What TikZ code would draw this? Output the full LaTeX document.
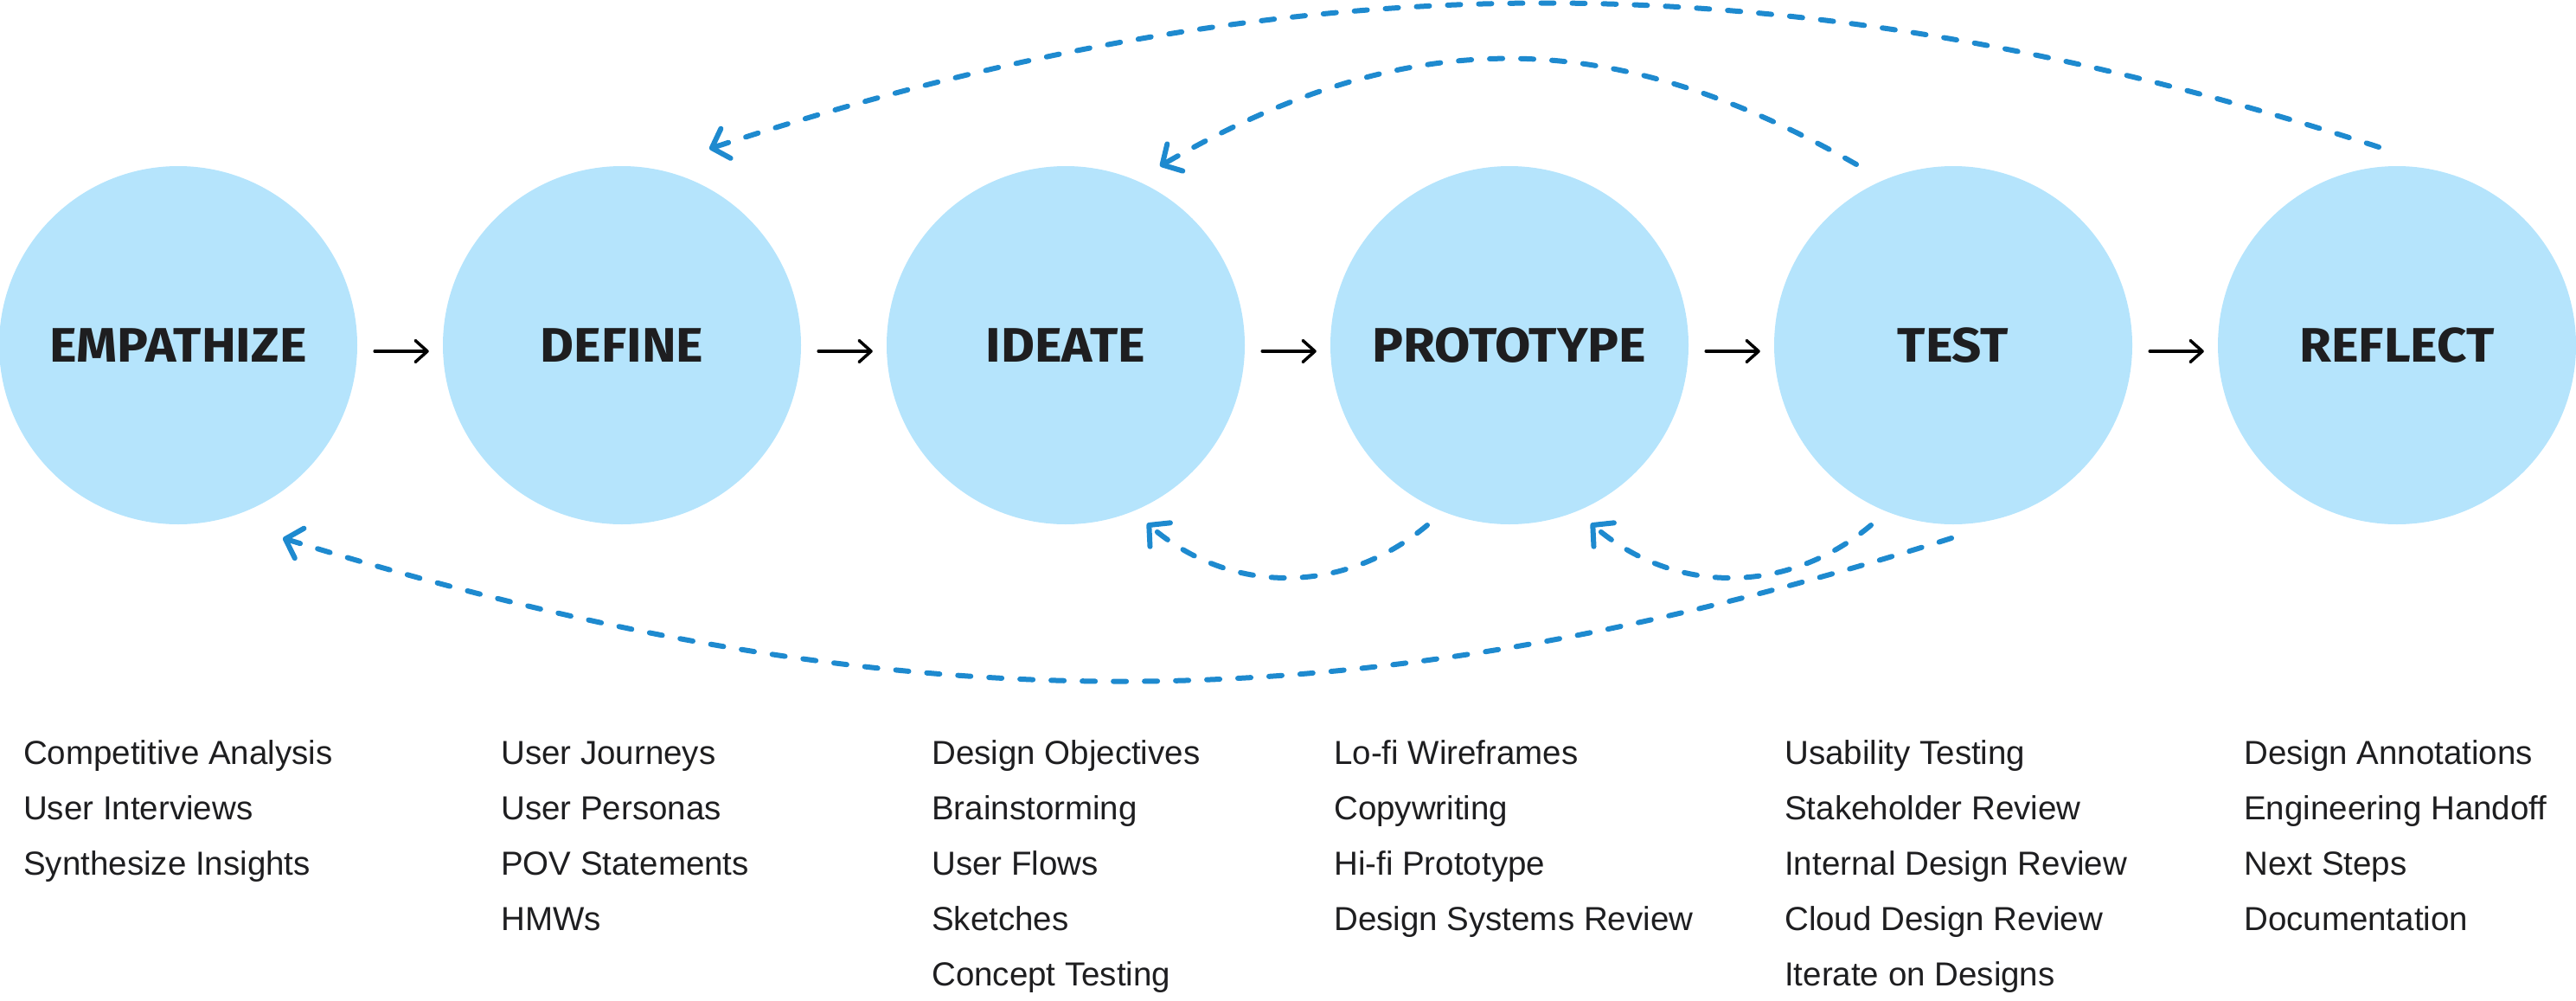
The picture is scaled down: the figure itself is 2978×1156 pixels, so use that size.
\documentclass[tikz,border=0pt]{standalone}
\usepackage{fontspec}
\setmainfont{Liberation Sans}
\newfontfamily\headfont[FakeStretch=1.07]{Fira Sans}
\usetikzlibrary{arrows.meta,calc}
\definecolor{circ}{HTML}{B5E4FC}
\definecolor{loopc}{HTML}{1E8ACF}
\definecolor{ink}{HTML}{1E1E20}
\begin{document}
\begin{tikzpicture}[x=1pt,y=-1pt,
 stage/.style={circle, fill=circ, minimum size=414pt, inner sep=0pt,
   font=\headfont\bfseries\fontsize{56}{56}\selectfont, text=ink},
 item/.style={anchor=base west, inner sep=0pt, font=\fontsize{38.5}{40}\selectfont, text=ink},
 flow/.style={draw=black, line width=3.5pt, line cap=round,
   -{Straight Barb[length=14pt,width=25pt,round]}, shorten <=20pt, shorten >=16pt},
 loopline/.style={draw=loopc, line width=6pt, line cap=round,
   dash pattern=on 15pt off 21pt,
   -{Straight Barb[length=17pt,width=36pt,round]}}
]
\useasboundingbox (0,0) rectangle (2978,1156);

% stages
\node[stage] (emp)   at (206,399)  {EMPATHIZE};
\node[stage] (def)   at (719,399)  {DEFINE};
\node[stage] (idea)  at (1232,399) {IDEATE};
\node[stage] (proto) at (1745,399) {PROTOTYPE};
\node[stage] (test)  at (2258,399) {TEST};
\node[stage] (refl)  at (2771,399) {REFLECT};

% forward arrows
\draw[flow] ([yshift=-7pt]emp.east)   -- ([yshift=-7pt]def.west);
\draw[flow] ([yshift=-7pt]def.east)   -- ([yshift=-7pt]idea.west);
\draw[flow] ([yshift=-7pt]idea.east)  -- ([yshift=-7pt]proto.west);
\draw[flow] ([yshift=-7pt]proto.east) -- ([yshift=-7pt]test.west);
\draw[flow] ([yshift=-7pt]test.east)  -- ([yshift=-7pt]refl.west);

% loop end points
\coordinate (rTop)  at ($(refl)+(-21,-229)$);
\coordinate (dTop)  at ($(def)+(101,-227)$);
\coordinate (tTop)  at ($(test)+(-112,-209)$);
\coordinate (iTop)  at ($(idea)+(109,-207)$);
\coordinate (pBotL) at ($(proto)+(-95,208)$);
\coordinate (iBotR) at ($(idea)+(94,206)$);
\coordinate (tBotL) at ($(test)+(-95,208)$);
\coordinate (pBotR) at ($(proto)+(94,206)$);
\coordinate (tBot)  at ($(test)+(-2,223)$);
\coordinate (eBot)  at ($(emp)+(121,223)$);

% feedback loops
\draw[loopline] (rTop) .. controls (2067,-52) and (1503,-52) .. (dTop);
\draw[loopline] (tTop) .. controls (1860,27) and (1627,27) .. (iTop);
\draw[loopline] (pBotL) .. controls (1553,688) and (1423,688) .. (iBotR);
\draw[loopline] (tBotL) .. controls (2066,688) and (1936,688) .. (pBotR);
\draw[loopline] (tBot) .. controls (1549,845) and (1034,840) .. (eBot);

% activity lists
\foreach \t [count=\i] in {Competitive Analysis, User Interviews, Synthesize Insights}
  \node[item] (emp-\i) at (27,{883+64*(\i-1)}) {\t};
\foreach \t [count=\i] in {User Journeys, User Personas, POV Statements, HMWs}
  \node[item] (def-\i) at (579,{883+64*(\i-1)}) {\t};
\foreach \t [count=\i] in {Design Objectives, Brainstorming, User Flows, Sketches, Concept Testing}
  \node[item] (idea-\i) at (1077,{883+64*(\i-1)}) {\t};
\foreach \t [count=\i] in {Lo-fi Wireframes, Copywriting, Hi-fi Prototype, Design Systems Review}
  \node[item] (proto-\i) at (1542,{883+64*(\i-1)}) {\t};
\foreach \t [count=\i] in {Usability Testing, Stakeholder Review, Internal Design Review, Cloud Design Review, Iterate on Designs}
  \node[item] (test-\i) at (2063,{883+64*(\i-1)}) {\t};
\foreach \t [count=\i] in {Design Annotations, Engineering Handoff, Next Steps, Documentation}
  \node[item] (refl-\i) at (2594,{883+64*(\i-1)}) {\t};
\end{tikzpicture}
\end{document}
